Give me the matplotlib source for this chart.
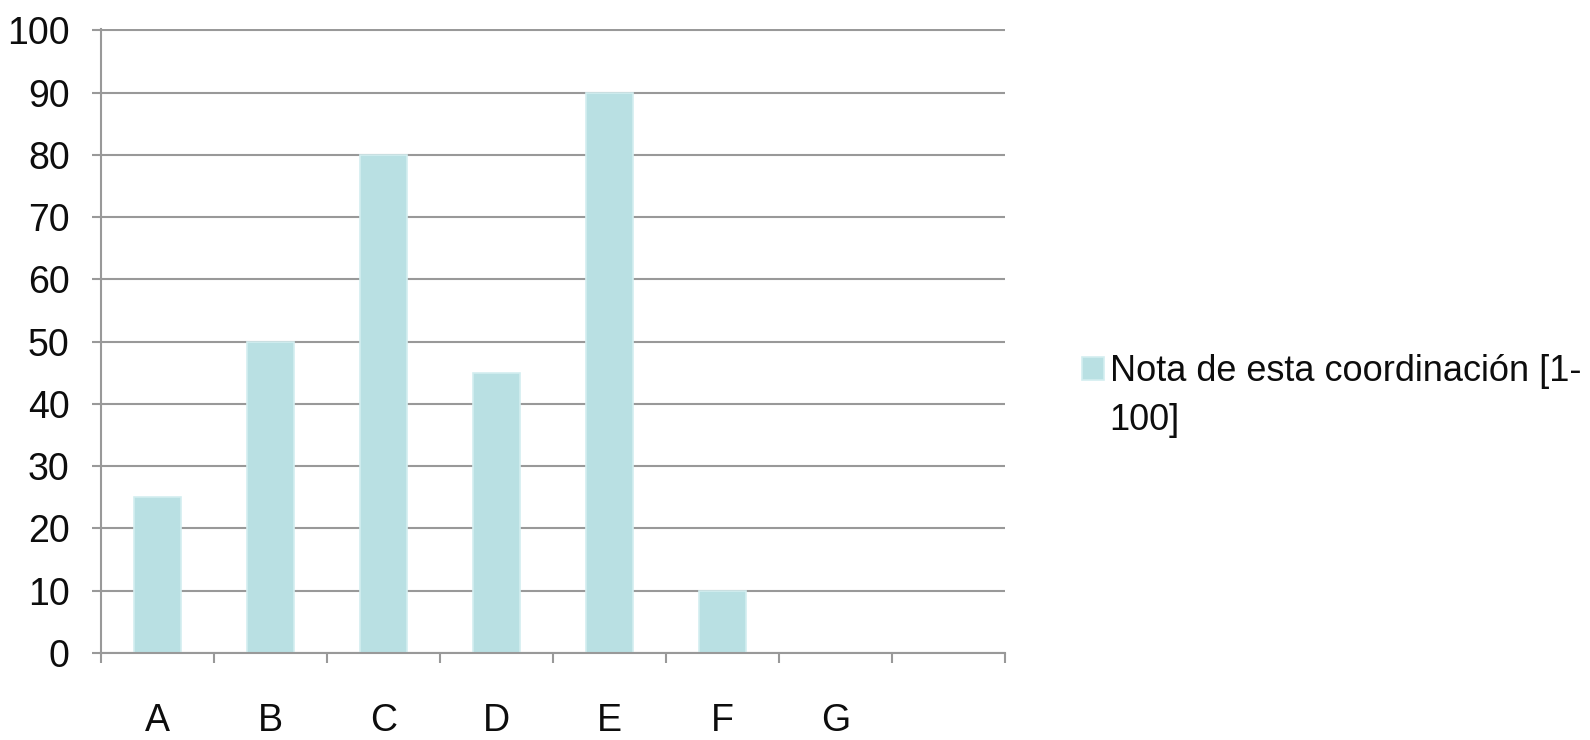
import numpy as np
import matplotlib.pyplot as plt

# datos
categorias = ["A", "B", "C", "D", "E", "F", "G"]
notas = [25, 50, 80, 45, 90, 10, 0]
serie = "Nota de esta coordinación [1-"
serie_2 = "100]"
n_huecos = 8

plt.rcParams['font.family'] = ['Liberation Sans', 'DejaVu Sans']

fig = plt.figure(figsize=(15.9, 7.4), dpi=100)
ax = fig.add_axes([101 / 1590, 1 - 653 / 740, 904 / 1590, 624 / 740])

x = np.arange(len(categorias))
ax.bar(x, notas, width=0.41, color="#b9e0e3", edgecolor="#d3eef0",
       linewidth=1.2, label=serie)

ax.set_xlim(-0.5, n_huecos - 0.5)
ax.set_ylim(0, 100.2)

ax.set_yticks(np.arange(0, 101, 10))
ax.set_xticks(x)
ax.set_xticklabels(categorias)
ax.set_xticks(np.arange(-0.5, n_huecos, 1), minor=True)

ax.grid(axis="y", color="#999999", linewidth=1.5)
ax.set_axisbelow(True)

for s in ["top", "right"]:
    ax.spines[s].set_visible(False)
for s in ["left", "bottom"]:
    ax.spines[s].set_color("#999999")
    ax.spines[s].set_linewidth(1.5)

ax.tick_params(axis="y", length=6.5, width=1.5, color="#999999",
               pad=16, labelsize=27, labelcolor="#0d0d0d")
ax.tick_params(axis="x", which="major", length=0, pad=36,
               labelsize=27, labelcolor="#0d0d0d")
ax.tick_params(axis="x", which="minor", length=7, width=1.5, color="#999999")

leg = fig.legend(loc="upper left", bbox_to_anchor=(1068 / 1590, 1 - 340 / 740),
                 frameon=False, fontsize=26, handlelength=0.6,
                 handleheight=0.6, handletextpad=0.15, borderaxespad=0)
for t in leg.get_texts():
    t.set_color("#0d0d0d")

fig.canvas.draw()
bb = leg.get_texts()[0].get_window_extent()
fig.text(bb.x0, bb.y0 - 14, serie_2, fontsize=26, color="#0d0d0d",
         ha="left", va="top", transform=None)

fig.savefig("out.png", dpi=100)
